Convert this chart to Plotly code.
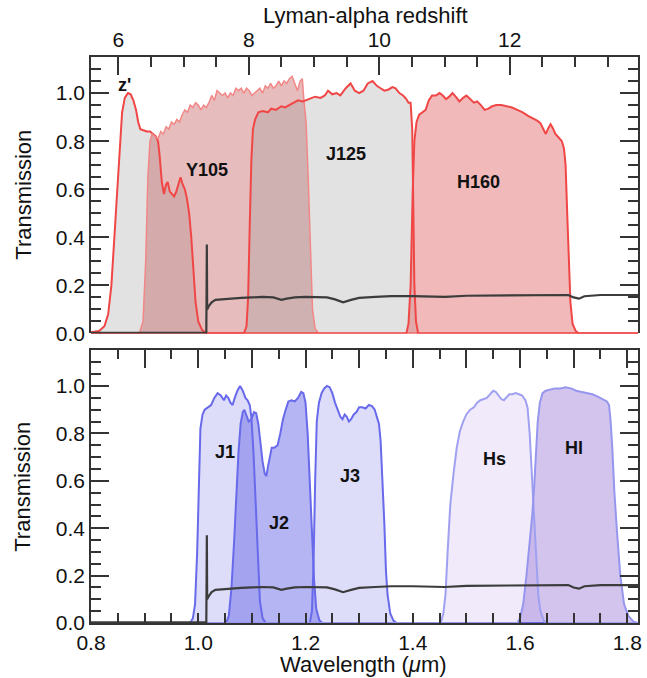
import plotly.graph_objects as go

LYA = 0.1216  # micron

# ---------------- top panel (HST filters) ----------------
zp_wl = [0.800, 0.815, 0.825, 0.832, 0.838, 0.843, 0.848, 0.853, 0.858, 0.863, 0.869, 0.874, 0.879,
         0.884, 0.888, 0.892, 0.897, 0.904, 0.910, 0.916, 0.921, 0.925, 0.928, 0.932, 0.936, 0.940,
         0.943, 0.947, 0.951, 0.955, 0.959, 0.963, 0.967, 0.971, 0.975, 0.979, 0.983, 0.987, 0.991,
         0.995, 1.000, 1.007, 1.015, 1.820]
zp_tr = [0.005, 0.01, 0.03, 0.08, 0.2, 0.38, 0.58, 0.78, 0.92, 0.98, 1.0, 0.995, 0.97,
         0.93, 0.88, 0.85, 0.845, 0.84, 0.84, 0.83, 0.82, 0.80, 0.74, 0.63, 0.58, 0.62,
         0.63, 0.59, 0.58, 0.57, 0.59, 0.62, 0.65, 0.62, 0.60, 0.56, 0.50, 0.40, 0.25,
         0.13, 0.05, 0.015, 0.0, 0.0]

y105_wl = [0.800, 0.890, 0.897, 0.902, 0.906, 0.910, 0.914, 0.920, 0.925, 0.930, 0.935, 0.940, 0.945,
           0.950, 0.955, 0.960, 0.965, 0.970, 0.975, 0.980, 0.985, 0.990, 0.995, 1.000, 1.005, 1.010,
           1.015, 1.020, 1.025, 1.030, 1.035, 1.040, 1.045, 1.050, 1.055, 1.060, 1.065, 1.070, 1.075,
           1.080, 1.085, 1.090, 1.095, 1.100, 1.105, 1.110, 1.115, 1.120, 1.125, 1.130, 1.135, 1.140,
           1.145, 1.150, 1.155, 1.160, 1.165, 1.170, 1.175, 1.180, 1.185, 1.190, 1.194, 1.197, 1.201,
           1.205, 1.209, 1.213, 1.218, 1.225, 1.820]
y105_tr = [0.0, 0.0, 0.05, 0.3, 0.65, 0.80, 0.83, 0.82, 0.81, 0.84, 0.83, 0.86, 0.85,
           0.88, 0.87, 0.89, 0.88, 0.91, 0.93, 0.92, 0.95, 0.94, 0.96, 0.95, 0.93, 0.95,
           0.94, 0.96, 0.99, 0.97, 1.01, 1.0, 0.99, 1.0, 0.98, 1.0, 0.99, 1.02, 1.01,
           1.02, 1.0, 1.02, 1.01, 0.99, 1.0, 1.01, 1.02, 1.0, 1.03, 1.02, 1.04, 1.02,
           1.03, 1.05, 1.03, 1.05, 1.04, 1.06, 1.07, 1.04, 1.01, 1.05, 1.06, 0.97, 0.88,
           0.65, 0.35, 0.1, 0.02, 0.0, 0.0]

j125_wl = [0.800, 1.085, 1.090, 1.093, 1.096, 1.099, 1.102, 1.106, 1.112, 1.120, 1.130, 1.136, 1.145,
           1.155, 1.162, 1.170, 1.180, 1.186, 1.195, 1.205, 1.218, 1.228, 1.236, 1.242, 1.250, 1.258,
           1.265, 1.275, 1.284, 1.292, 1.300, 1.308, 1.316, 1.325, 1.333, 1.340, 1.347, 1.355, 1.362,
           1.368, 1.375, 1.382, 1.388, 1.392, 1.396, 1.399, 1.401, 1.403, 1.406, 1.410, 1.820]
j125_tr = [0.0, 0.0, 0.03, 0.15, 0.45, 0.72, 0.85, 0.89, 0.92, 0.925, 0.92, 0.935, 0.93,
           0.945, 0.94, 0.95, 0.96, 0.97, 0.965, 0.975, 0.985, 0.98, 0.99, 1.01, 0.995, 1.0,
           0.99, 1.02, 1.04, 1.01, 1.0, 1.01, 1.04, 1.05, 1.03, 1.02, 1.01, 1.015, 1.025,
           1.02, 1.0, 0.99, 0.975, 0.96, 0.96, 0.85, 0.5, 0.2, 0.05, 0.0, 0.0]

h160_wl = [0.800, 1.388, 1.392, 1.396, 1.400, 1.403, 1.407, 1.412, 1.418, 1.424, 1.430, 1.436, 1.443,
           1.450, 1.456, 1.462, 1.468, 1.474, 1.480, 1.487, 1.494, 1.500, 1.507, 1.514, 1.520, 1.527,
           1.534, 1.541, 1.548, 1.556, 1.565, 1.575, 1.585, 1.595, 1.605, 1.615, 1.625, 1.632, 1.638,
           1.644, 1.648, 1.653, 1.657, 1.661, 1.666, 1.672, 1.678, 1.682, 1.685, 1.688, 1.691, 1.694,
           1.698, 1.704, 1.710, 1.820]
h160_tr = [0.0, 0.0, 0.04, 0.2, 0.6, 0.8, 0.88, 0.91, 0.92, 0.93, 0.97, 0.99, 0.99,
           1.0, 0.99, 0.975, 0.985, 1.0, 0.985, 0.965, 0.98, 0.99, 0.975, 0.96, 0.965, 0.95,
           0.93, 0.935, 0.945, 0.95, 0.95, 0.945, 0.94, 0.93, 0.92, 0.905, 0.895, 0.885, 0.875,
           0.85, 0.83, 0.855, 0.87, 0.855, 0.83, 0.815, 0.80, 0.77, 0.70, 0.5, 0.3, 0.13,
           0.04, 0.01, 0.0, 0.0]

# ---------------- bottom panel (medium-band filters) ----------------
j1_wl = [0.800, 0.985, 0.990, 0.994, 0.998, 1.001, 1.004, 1.008, 1.012, 1.018, 1.024, 1.030, 1.036,
         1.042, 1.048, 1.052, 1.056, 1.060, 1.064, 1.068, 1.073, 1.078, 1.083, 1.088, 1.092, 1.096,
         1.099, 1.103, 1.107, 1.111, 1.115, 1.120, 1.126, 1.820]
j1_tr = [0.0, 0.0, 0.02, 0.08, 0.3, 0.6, 0.82, 0.88, 0.9, 0.91, 0.92, 0.95, 0.97,
         0.96, 0.94, 0.96, 0.95, 0.93, 0.92, 0.95, 0.98, 1.0, 0.98, 0.95, 0.94, 0.92,
         0.87, 0.72, 0.5, 0.25, 0.09, 0.02, 0.0, 0.0]

j2_wl = [0.800, 1.052, 1.057, 1.062, 1.067, 1.071, 1.075, 1.079, 1.083, 1.086, 1.090, 1.094, 1.099,
         1.104, 1.108, 1.112, 1.116, 1.120, 1.124, 1.127, 1.130, 1.133, 1.137, 1.142, 1.148, 1.153,
         1.158, 1.163, 1.168, 1.174, 1.180, 1.186, 1.192, 1.196, 1.200, 1.204, 1.208, 1.212, 1.216,
         1.220, 1.226, 1.232, 1.820]
j2_tr = [0.0, 0.0, 0.03, 0.15, 0.35, 0.55, 0.72, 0.84, 0.89, 0.9, 0.87, 0.85, 0.86,
         0.89, 0.885, 0.84, 0.76, 0.68, 0.63, 0.62, 0.66, 0.69, 0.74, 0.74, 0.75, 0.80,
         0.86, 0.9, 0.935, 0.94, 0.935, 0.95, 0.975, 0.97, 0.93, 0.8, 0.6, 0.38, 0.18,
         0.06, 0.01, 0.0, 0.0]

j3_wl = [0.800, 1.208, 1.212, 1.215, 1.218, 1.221, 1.225, 1.230, 1.235, 1.240, 1.245, 1.250, 1.255,
         1.260, 1.265, 1.269, 1.273, 1.277, 1.281, 1.285, 1.290, 1.295, 1.300, 1.306, 1.312, 1.318,
         1.324, 1.329, 1.333, 1.337, 1.340, 1.344, 1.347, 1.350, 1.353, 1.358, 1.364, 1.370, 1.820]
j3_tr = [0.0, 0.0, 0.05, 0.25, 0.6, 0.85, 0.93, 0.97, 0.99, 1.0, 0.995, 0.97, 0.93,
         0.9, 0.87, 0.86, 0.88, 0.87, 0.85, 0.86, 0.88, 0.89, 0.91, 0.91, 0.905, 0.92,
         0.915, 0.9, 0.87, 0.84, 0.77, 0.6, 0.42, 0.22, 0.12, 0.04, 0.01, 0.0, 0.0]

hs_wl = [0.800, 1.452, 1.457, 1.461, 1.465, 1.470, 1.476, 1.482, 1.488, 1.494, 1.500, 1.507, 1.514,
         1.520, 1.526, 1.532, 1.538, 1.544, 1.550, 1.555, 1.560, 1.565, 1.570, 1.575, 1.580, 1.586,
         1.592, 1.598, 1.604, 1.610, 1.614, 1.618, 1.622, 1.626, 1.630, 1.634, 1.638, 1.644, 1.650, 1.820]
hs_tr = [0.0, 0.0, 0.04, 0.12, 0.3, 0.5, 0.63, 0.74, 0.81, 0.85, 0.88, 0.9, 0.91,
         0.93, 0.94, 0.945, 0.95, 0.965, 0.98, 0.975, 0.96, 0.945, 0.94, 0.955, 0.965, 0.965,
         0.97, 0.965, 0.96, 0.94, 0.91, 0.8, 0.62, 0.42, 0.25, 0.12, 0.05, 0.01, 0.0, 0.0]

hl_wl = [0.800, 1.595, 1.600, 1.606, 1.612, 1.618, 1.623, 1.627, 1.630, 1.633, 1.637, 1.642, 1.648,
         1.656, 1.665, 1.675, 1.685, 1.695, 1.705, 1.715, 1.725, 1.735, 1.745, 1.755, 1.762, 1.766,
         1.769, 1.772, 1.776, 1.781, 1.787, 1.794, 1.802, 1.812, 1.820]
hl_tr = [0.0, 0.0, 0.02, 0.08, 0.2, 0.33, 0.46, 0.6, 0.72, 0.85, 0.93, 0.97, 0.98,
         0.985, 0.99, 0.99, 0.995, 0.99, 0.98, 0.975, 0.97, 0.965, 0.955, 0.945, 0.935, 0.92,
         0.85, 0.74, 0.55, 0.38, 0.2, 0.08, 0.03, 0.005, 0.0]

# ---------------- model spectrum (black) ----------------
spec_wl = [0.800, 1.0150, 1.0156, 1.0160, 1.0166, 1.0200, 1.025, 1.032, 1.045, 1.060, 1.080, 1.100,
           1.120, 1.140, 1.155, 1.165, 1.180, 1.200, 1.220, 1.240, 1.255, 1.270, 1.285, 1.300,
           1.330, 1.360, 1.400, 1.430, 1.460, 1.500, 1.550, 1.600, 1.650, 1.690, 1.700, 1.710,
           1.720, 1.750, 1.820]
spec_fl = [0.003, 0.003, 0.20, 0.37, 0.10, 0.115, 0.13, 0.14, 0.143, 0.145, 0.148, 0.150,
           0.152, 0.150, 0.140, 0.145, 0.150, 0.152, 0.150, 0.150, 0.142, 0.130, 0.140, 0.148,
           0.152, 0.155, 0.155, 0.155, 0.152, 0.157, 0.158, 0.160, 0.160, 0.160, 0.150, 0.145,
           0.155, 0.160, 0.160]

top_filters = [
    ("z'",  zp_wl,   zp_tr,   "rgba(150,150,150,0.28)", "rgb(240,70,70)",   2.0, 0.863, 1.035),
    ("Y105", y105_wl, y105_tr, "rgba(190,80,80,0.38)",  "rgb(242,135,135)", 1.5, 1.016, 0.68),
    ("J125", j125_wl, j125_tr, "rgba(150,150,150,0.28)", "rgb(240,70,70)",   2.0, 1.275, 0.745),
    ("H160", h160_wl, h160_tr, "rgba(225,100,100,0.45)", "rgb(240,70,70)",   2.0, 1.523, 0.63),
]
bot_filters = [
    ("J1", j1_wl, j1_tr, "rgba(120,120,235,0.25)", "rgb(105,105,235)", 2.0, 1.050, 0.72),
    ("J2", j2_wl, j2_tr, "rgba(100,100,230,0.48)", "rgb(105,105,235)", 2.0, 1.151, 0.42),
    ("J3", j3_wl, j3_tr, "rgba(120,120,235,0.25)", "rgb(105,105,235)", 2.0, 1.283, 0.62),
    ("Hs", hs_wl, hs_tr, "rgba(170,140,225,0.18)", "rgb(160,160,240)", 2.0, 1.552, 0.69),
    ("Hl", hl_wl, hl_tr, "rgba(150,115,215,0.42)", "rgb(150,150,238)", 2.0, 1.700, 0.74),
]

fig = go.Figure()
annots = []

for filters, xa, ya in [(top_filters, "x", "y"), (bot_filters, "x2", "y2")]:
    for name, wl, tr, fc, lc, lw, lx, ly in filters:
        fig.add_trace(go.Scatter(x=wl, y=tr, mode="lines", fill="tozeroy", fillcolor=fc,
                                 line=dict(width=0, color=fc), xaxis=xa, yaxis=ya,
                                 hoverinfo="skip", showlegend=False))
    for name, wl, tr, fc, lc, lw, lx, ly in filters:
        fig.add_trace(go.Scatter(x=wl, y=tr, mode="lines", line=dict(width=lw, color=lc),
                                 xaxis=xa, yaxis=ya, name=name, showlegend=False))
        annots.append(dict(x=lx, y=ly, xref=xa, yref=ya, text="<b>%s</b>" % name,
                           showarrow=False, font=dict(size=18, color="#111")))
    fig.add_trace(go.Scatter(x=spec_wl, y=spec_fl, mode="lines",
                             line=dict(width=2.2, color="rgb(60,60,60)"),
                             xaxis=xa, yaxis=ya, showlegend=False))

# invisible traces so the overlay axes are drawn
zr = [0.8 / LYA - 1, 1.82 / LYA - 1]
fig.add_trace(go.Scatter(x=zr, y=[0, 0], mode="lines", line=dict(width=0), xaxis="x3", yaxis="y",
                         hoverinfo="skip", showlegend=False, opacity=0))
fig.add_trace(go.Scatter(x=[0.8, 1.82], y=[0, 0], mode="lines", line=dict(width=0), xaxis="x4",
                         yaxis="y2", hoverinfo="skip", showlegend=False, opacity=0))

FONT = "Liberation Sans, Arial, Helvetica, sans-serif"
AX = "rgb(51,51,51)"
tickfont = dict(family=FONT, size=21, color="#111")

yax = dict(range=[0, 1.15], tickmode="linear", tick0=0, dtick=0.2, tickformat=".1f",
           ticks="inside", ticklen=18, tickwidth=1.5, tickcolor=AX,
           minor=dict(dtick=0.05, tick0=0, ticks="inside", ticklen=10, tickwidth=1.5, tickcolor=AX),
           showline=True, linecolor=AX, linewidth=1.5, mirror="ticks",
           showgrid=False, zeroline=False, tickfont=tickfont)

fig.update_layout(
    width=647, height=678,
    margin=dict(l=91, r=5, t=57, b=55),
    paper_bgcolor="white", plot_bgcolor="white",
    font=dict(family=FONT, color="#111"),
    xaxis=dict(domain=[0, 1], anchor="y", range=[0.8, 1.82], showticklabels=False, ticks="",
               showline=False, showgrid=False, zeroline=False),
    yaxis=dict(domain=[0.5115, 1.0], anchor="x", **yax),
    xaxis3=dict(overlaying="x", anchor="y", side="top", range=zr, tickmode="linear", tick0=6,
                dtick=2, ticks="inside", ticklen=18, tickwidth=1.5, tickcolor=AX,
                minor=dict(dtick=0.5, tick0=6, ticks="inside", ticklen=10, tickwidth=1.5,
                           tickcolor=AX),
                showline=True, linecolor=AX, linewidth=1.5, showgrid=False, zeroline=False,
                tickfont=tickfont),
    xaxis2=dict(domain=[0, 1], anchor="y2", range=[0.8, 1.82], tickmode="linear", tick0=0.8,
                dtick=0.2, tickformat=".1f", ticks="inside", ticklen=10, tickwidth=1.5, tickcolor=AX,
                minor=dict(dtick=0.05, tick0=0.8, ticks="inside", ticklen=10, tickwidth=1.5,
                           tickcolor=AX),
                showline=True, linecolor=AX, linewidth=1.5, showgrid=False, zeroline=False,
                tickfont=tickfont),
    xaxis4=dict(overlaying="x2", anchor="y2", side="top", range=[0.8, 1.82], tickmode="linear",
                tick0=0.8, dtick=0.1, ticks="inside", ticklen=18, tickwidth=1.5, tickcolor=AX,
                minor=dict(dtick=0.05, tick0=0.8, ticks="inside", ticklen=9, tickwidth=1.5, tickcolor=AX),
                showticklabels=False, showline=True, linecolor=AX, linewidth=1.5,
                showgrid=False, zeroline=False),
    yaxis2=dict(domain=[0.0, 0.4815], anchor="x2", **yax),
)

annots += [
    dict(x=-0.125, y=0.756, xref="paper", yref="paper", text="Transmission", textangle=-90,
         xanchor="center", yanchor="middle",
         showarrow=False, font=dict(family=FONT, size=22, color="#111")),
    dict(x=-0.125, y=0.240, xref="paper", yref="paper", text="Transmission", textangle=-90,
         xanchor="center", yanchor="middle",
         showarrow=False, font=dict(family=FONT, size=22, color="#111")),
    dict(x=0.502, y=1.074, xref="paper", yref="paper", text="Lyman-alpha redshift",
         xanchor="center", yanchor="middle",
         showarrow=False, font=dict(family=FONT, size=22, color="#111")),
    dict(x=0.499, y=-0.074, xref="paper", yref="paper", text="Wavelength (<i>μ</i>m)",
         xanchor="center", yanchor="middle",
         showarrow=False, font=dict(family=FONT, size=22, color="#111")),
]
for a in annots:
    a.setdefault("font", dict(size=18, color="#111"))
    a["font"].setdefault("family", FONT)
fig.update_layout(annotations=annots)

fig.write_html("out.html")
